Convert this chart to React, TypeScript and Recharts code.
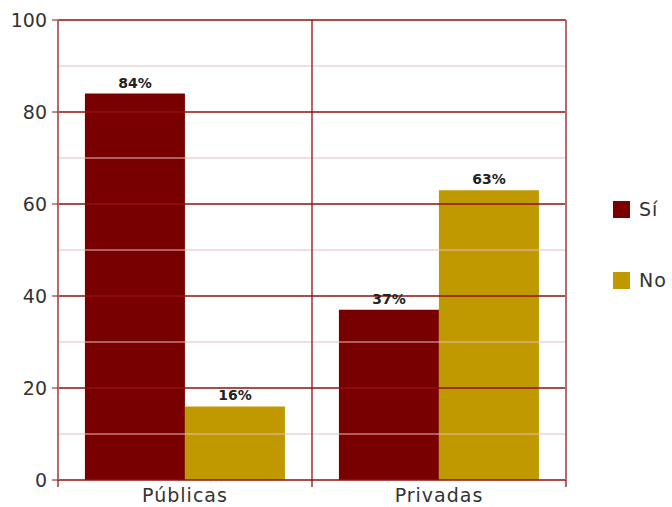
import React from "react";
import { BarChart, Bar, XAxis, YAxis, ReferenceLine, Legend, LabelList } from "recharts";

const categories = ["Públicas", "Privadas"];
const siValues = [84, 37];
const noValues = [16, 63];
const yTicks = [0, 20, 40, 60, 80, 100];
const minorLines = [10, 30, 50, 70, 90];
const majorLines = [0, 20, 40, 60, 80, 100];

const data = categories.map((c, i) => ({ name: c, si: siValues[i], no: noValues[i] }));

const n = categories.length;
const boundaryTicks = Array.from({ length: n + 1 }, (_, i) => i / n);
const centerTicks = categories.map((_, i) => (i + 0.5) / n);
const allTicks = [...boundaryTicks, ...centerTicks].sort((a, b) => a - b);
const innerBoundaries = boundaryTicks.slice(1, -1);

const SI = "#780000";
const NO = "#C09800";
const MAJOR = "#8E1010";
const MINOR = "#E6BDBD";
const BORDER = "#B86A6A";
const FONT = "'DejaVu Sans', sans-serif";
const TICK_SIZE = 7;
const TICK_MARGIN = 2;

const LegendContent = () => (
  <div style={{ fontFamily: FONT, fontSize: 19, color: "#333", letterSpacing: 1 }}>
    {[{ label: "Sí", color: SI }, { label: "No", color: NO }].map((it, i) => (
      <div key={it.label} style={{ display: "flex", alignItems: "center", height: 20, marginBottom: i === 0 ? 51 : 0 }}>
        <div style={{ width: 17, height: 17, background: it.color, marginRight: 9 }} />
        <span>{it.label}</span>
      </div>
    ))}
  </div>
);

const XTick = (props: any) => {
  const { x, y, payload } = props;
  const v = payload.value;
  const bIdx = boundaryTicks.findIndex((b) => Math.abs(b - v) < 1e-9);
  if (bIdx >= 0) {
    const axisY = y - TICK_SIZE - TICK_MARGIN;
    return <line x1={x} x2={x} y1={axisY} y2={axisY + TICK_SIZE} stroke={MAJOR} strokeWidth={1.3} />;
  }
  const cIdx = centerTicks.findIndex((c) => Math.abs(c - v) < 1e-9);
  return (
    <text x={x} y={y} dy="0.71em" textAnchor="middle" fill="#333" fontSize={19} fontFamily={FONT} letterSpacing={1}>
      {categories[cIdx]}
    </text>
  );
};

export default function App() {
  return (
    <div style={{ position: "absolute", left: 0, top: 0 }}>
      <BarChart
        width={672}
        height={507}
        data={data}
        margin={{ top: 20, right: 46, left: 0, bottom: 0 }}
        barCategoryGap="10.6%"
        barGap={0}
        style={{ fontFamily: FONT }}
      >
        {minorLines.map((v) => (
          <ReferenceLine key={"mi" + v} y={v} stroke={MINOR} strokeWidth={1} />
        ))}
        <XAxis
          xAxisId="num"
          type="number"
          domain={[0, 1]}
          allowDataOverflow
          ticks={allTicks}
          interval={0}
          tick={XTick}
          tickLine={false}
          tickSize={TICK_SIZE}
          tickMargin={TICK_MARGIN}
          axisLine={false}
          height={27}
        />
        <XAxis dataKey="name" hide height={0} />
        <YAxis
          domain={[0, 100]}
          ticks={yTicks}
          width={58}
          tickSize={6}
          tickMargin={5}
          tickLine={{ stroke: MAJOR }}
          axisLine={{ stroke: BORDER, strokeWidth: 2 }}
          tick={{ fill: "#333", fontSize: 19, fontFamily: FONT }}
        />
        {majorLines.map((v) => (
          <ReferenceLine key={"ma" + v} y={v} stroke={MAJOR} strokeWidth={1.3} />
        ))}
        {innerBoundaries.map((b) => (
          <ReferenceLine key={"vb" + b} x={b} xAxisId="num" stroke={MAJOR} strokeWidth={1.3} />
        ))}
        <ReferenceLine x={1} xAxisId="num" stroke={BORDER} strokeWidth={2} />
        <Legend
          layout="vertical"
          align="right"
          verticalAlign="middle"
          content={<LegendContent />}
          wrapperStyle={{ left: 613, top: 199, width: 60, right: "auto" }}
        />
        <Bar dataKey="si" name="Sí" fill={SI} isAnimationActive={false}>
          <LabelList dataKey="si" position="top" offset={6} formatter={(v: number) => v + "%"} style={{ fontWeight: 700, fontSize: 14, fill: "#222", fontFamily: FONT }} />
        </Bar>
        <Bar dataKey="no" name="No" fill={NO} isAnimationActive={false}>
          <LabelList dataKey="no" position="top" offset={6} formatter={(v: number) => v + "%"} style={{ fontWeight: 700, fontSize: 14, fill: "#222", fontFamily: FONT }} />
        </Bar>
      </BarChart>
    </div>
  );
}
